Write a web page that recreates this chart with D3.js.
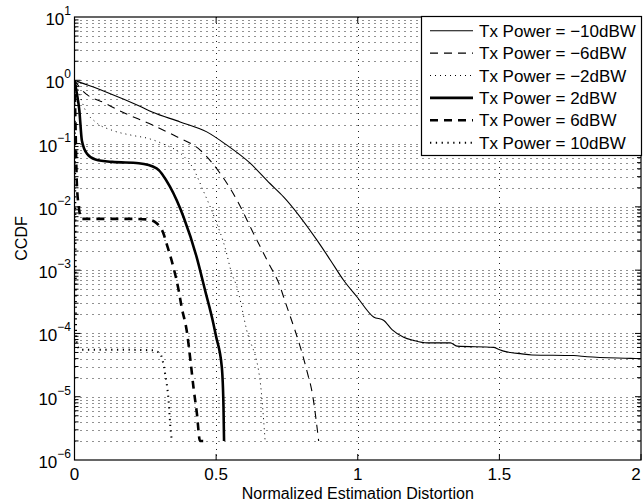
<!DOCTYPE html>
<html>
<head>
<meta charset="utf-8">
<script src="https://cdn.jsdelivr.net/npm/d3@7"></script>
<style>
html,body{margin:0;padding:0;background:#fff;}
svg{display:block;}
text{font-family:"Liberation Sans",Arial,Helvetica,sans-serif;fill:#000;}
</style>
</head>
<body>
<svg id="chart" width="643" height="503"></svg>
<script>
// ---------- data ----------
const seriesNames = ["Tx Power = \u221210dBW","Tx Power = \u22126dBW","Tx Power = \u22122dBW",
                     "Tx Power = 2dBW","Tx Power = 6dBW","Tx Power = 10dBW"];

const xM10 = [0,0.015,0.109,0.231,0.274,0.373,0.467,0.538,0.62,0.69,0.738,0.856,0.903,0.95,0.997,1.056,1.091,1.121,1.162,1.197,1.245,1.327,1.35,1.48,1.497,1.515,1.539,1.574,1.615,1.763,1.81,1.963,2.0];
const yM10 = [1,0.944,0.661,0.389,0.316,0.22,0.153,0.0944,0.049,0.0234,0.0144,0.00298,0.00145,6.92e-4,3.8e-4,1.82e-4,1.62e-4,1.15e-4,8.7e-5,7.76e-5,7.08e-5,7.08e-5,6.31e-5,6.03e-5,5.62e-5,5.25e-5,5.01e-5,4.79e-5,4.57e-5,4.47e-5,4.27e-5,4.03e-5,3.98e-5];

const xM6 = [0,0.026,0.109,0.18,0.262,0.361,0.443,0.514,0.573,0.632,0.685,0.726,0.738,0.82,0.84,0.862];
const yM6 = [1,0.7,0.431,0.299,0.209,0.128,0.0794,0.0339,0.0129,0.0038,0.00129,5.5e-4,3.8e-4,2.6e-5,1.1e-5,2e-6];

const xM2 = [0,0.01,0.038,0.074,0.133,0.203,0.262,0.32,0.373,0.42,0.455,0.497,0.532,0.555,0.573,0.608,0.655,0.673];
const yM2 = [1,0.759,0.339,0.22,0.162,0.135,0.12,0.0955,0.0708,0.0398,0.0178,0.0063,0.00224,8.9e-4,5.5e-4,1.12e-4,1.82e-5,2e-6];

const xP2 = [0,0.008,0.017,0.026,0.044,0.074,0.133,0.227,0.29,0.337,0.385,0.431,0.461,0.49,0.5,0.52,0.526,0.528];
const yP2 = [1,0.631,0.339,0.112,0.0692,0.0562,0.0513,0.049,0.0407,0.0209,0.00692,0.00162,4.8e-4,1.45e-4,8.9e-5,2.95e-5,6.9e-6,2e-6];

const xP6 = [0,0.004,0.008,0.015,0.025,0.1,0.2,0.26,0.29,0.314,0.325,0.349,0.367,0.379,0.396,0.41,0.42,0.432,0.443,0.455];
const yP6 = [1,0.158,0.0251,0.01,0.00646,0.00646,0.00646,0.00631,0.0055,0.0038,0.00263,0.00112,5.0e-4,2.5e-4,1.12e-4,3.55e-5,1.41e-5,5.5e-6,2.0e-6,2.0e-6];

const xP10 = [0,0.003,0.006,0.02,0.1,0.2,0.278,0.302,0.32,0.331,0.341,0.345];
const yP10 = [1,0.01,7.9e-5,5.5e-5,5.5e-5,5.5e-5,5.4e-5,4.8e-5,2.3e-5,1e-5,2.5e-6,2e-6];

const xTicks = [0,0.5,1,1.5,2];
const xTickLabels = ["0","0.5","1","1.5","2"];
const yExponents = [-6,-5,-4,-3,-2,-1,0,1];
const xTitle = "Normalized Estimation Distortion";
const yTitle = "CCDF";

// ---------- styles ----------
const styles = [
  {w:1.1, dash:null},
  {w:1.1, dash:"8,6"},
  {w:1.0, dash:"1,4"},
  {w:2.6, dash:null},
  {w:2.6, dash:"8,6"},
  {w:2.0, dash:"1.3,4.5"}
];
const xsAll = [xM10,xM6,xM2,xP2,xP6,xP10];
const ysAll = [yM10,yM6,yM2,yP2,yP6,yP10];

// ---------- layout ----------
const L = 74.5, R = 641, T = 17, B = 460;
const svg = d3.select("#chart");
const x = d3.scaleLinear().domain([0,2]).range([L,R]);
const y = d3.scaleLog().domain([1e-6,10]).range([B,T]);

// grid
const grid = svg.append("g").attr("stroke","#222").attr("stroke-width",1).attr("stroke-dasharray","1,5").attr("fill","none");
const yMinor = [];
for (let e=-6;e<=0;e++) for (let m=1;m<=9;m++) { const v=m*Math.pow(10,e); if (v>1e-6 && v<10) yMinor.push(v); }
yMinor.forEach(v=>{
  const yy = Math.round(y(v))+0.5;
  grid.append("line").attr("x1",L).attr("x2",R).attr("y1",yy).attr("y2",yy);
});
xTicks.slice(1,-1).forEach(v=>{
  const xx = Math.round(x(v))+0.5;
  grid.append("line").attr("x1",xx).attr("x2",xx).attr("y1",T).attr("y2",B);
});

// curves
svg.append("clipPath").attr("id","clip").append("rect").attr("x",L).attr("y",T).attr("width",R-L).attr("height",B-T);
const line = d3.line().x(d=>x(d[0])).y(d=>y(d[1])).curve(d3.curveMonotoneX);
const curves = svg.append("g").attr("clip-path","url(#clip)");
xsAll.forEach((xs,i)=>{
  const pts = xs.map((v,j)=>[v, ysAll[i][j]]);
  curves.append("path").datum(pts).attr("d",line)
    .attr("fill","none").attr("stroke","#000")
    .attr("stroke-width",styles[i].w)
    .attr("stroke-dasharray",styles[i].dash)
    .attr("stroke-linejoin","round");
});

// axes frame
svg.append("rect").attr("x",L).attr("y",T).attr("width",R-L).attr("height",B-T)
  .attr("fill","none").attr("stroke","#000").attr("stroke-width",1.2);

// ticks
const tk = svg.append("g").attr("stroke","#000").attr("stroke-width",1);
yMinor.forEach(v=>{
  const isMajor = Math.abs(Math.log10(v)-Math.round(Math.log10(v)))<1e-9;
  const len = isMajor?6:4;
  const yy = y(v);
  tk.append("line").attr("x1",L).attr("x2",L+len).attr("y1",yy).attr("y2",yy);
  tk.append("line").attr("x1",R).attr("x2",R-len).attr("y1",yy).attr("y2",yy);
});
xTicks.forEach(v=>{
  const xx = x(v);
  tk.append("line").attr("x1",xx).attr("x2",xx).attr("y1",B).attr("y2",B-6);
  tk.append("line").attr("x1",xx).attr("x2",xx).attr("y1",T).attr("y2",T+6);
});

// x tick labels
xTicks.forEach((v,i)=>{
  svg.append("text").attr("x",Math.min(x(v),636)).attr("y",480).attr("text-anchor","middle")
    .attr("font-size",17).text(xTickLabels[i]);
});
// y tick labels (10^e)
yExponents.forEach(e=>{
  const yy = y(Math.pow(10,e));
  const t = svg.append("text").attr("x",71).attr("y",yy+8).attr("text-anchor","end").attr("font-size",17);
  t.append("tspan").text("10");
  t.append("tspan").attr("dy",-10).attr("font-size",12).text(e<0 ? "\u2212"+(-e) : String(e));
});

// axis titles
svg.append("text").attr("x",(L+R)/2).attr("y",499).attr("text-anchor","middle").attr("font-size",16).text(xTitle);
svg.append("text").attr("transform",`translate(27,${(T+B)/2}) rotate(-90)`).attr("text-anchor","middle").attr("font-size",16).text(yTitle);

// legend
const lg = svg.append("g");
lg.append("rect").attr("x",421.5).attr("y",16.5).attr("width",220).attr("height",139)
  .attr("fill","#fff").attr("stroke","#000").attr("stroke-width",1.2);
seriesNames.forEach((name,i)=>{
  const cy = 30.7 + i*22.4;
  lg.append("line").attr("x1",430).attr("x2",473).attr("y1",cy).attr("y2",cy)
    .attr("stroke","#000").attr("stroke-width",styles[i].w).attr("stroke-dasharray",styles[i].dash);
  lg.append("text").attr("x",479).attr("y",cy+6).attr("font-size",17).text(name);
});
</script>
</body>
</html>
